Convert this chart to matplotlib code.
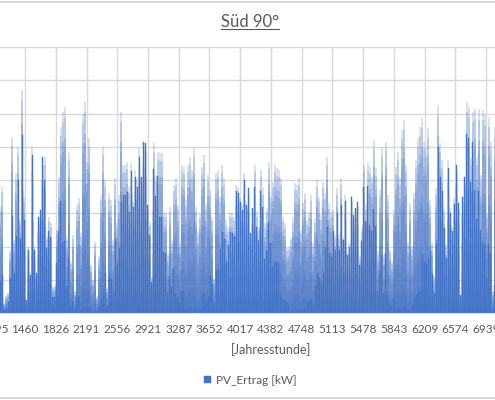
import numpy as np
import matplotlib
matplotlib.use("Agg")
import matplotlib.pyplot as plt
from matplotlib.lines import Line2D

# daily peak of PV_Ertrag (days 48 .. 294)
peaks_a = [3.2, 3.8, 0.3, 0.5, 0.6, 1.9, 5.3, 2.2, 4.2, 5.0, 2.8, 6.7, 3.5, 0.4, 2.0, 1.2,
           5.0, 2.0, 1.2, 2.9, 3.1, 4.7, 4.7, 2.3, 2.9, 2.7, 0.8, 0.8, 2.5, 4.1, 5.6]
peaks_b = [6.05, 6.2, 2.3, 4.8, 1.55, 2.35, 0.65, 3.25, 3.45, 2.4, 6.0, 6.35, 4.55, 5.25, 1.45,
           1.0, 2.15, 0.5, 1.7, 3.55, 5.0, 4.0, 0.75, 3.6, 3.4, 2.2, 4.05, 2.7, 3.55, 6.05, 4.45]
peaks_c = [4.45, 4.55, 3.8, 4.5, 3.35, 4.3, 4.0, 4.95, 4.1, 5.15, 5.1, 3.25, 2.75, 1.1, 5.1, 4.15,
           4.85, 4.8, 4.8, 3.05, 3.0, 1.8, 3.2, 2.2, 3.85, 4.05, 3.25, 2.1, 4.45, 4.4, 3.4]
peaks_d = [4.45, 4.7, 4.3, 4.95, 3.2, 2.45, 3.0, 4.4, 4.75, 3.25, 4.15, 3.7, 2.9, 1.05, 4.2, 4.3,
           3.5, 4.45, 4.05, 2.8, 2.55, 3.05, 3.0, 2.9, 3.85, 3.8, 3.5, 3.25, 4.2, 3.25, 3.75]
peaks_e = [2.4, 3.15, 4.45, 3.05, 2.6, 4.3, 3.75, 2.7, 3.15, 4.55, 3.5, 3.95, 4.45, 4.35, 4.3, 4.05,
           2.9, 2.7, 1.95, 2.0, 2.3, 2.85, 3.9, 3.85, 4.05, 2.5, 3.3, 3.6, 2.8, 3.05, 3.55]
peaks_f = [2.1, 2.85, 4.0, 3.5, 2.95, 3.95, 3.6, 4.7, 3.3, 3.05, 3.1, 2.35, 3.75, 2.35, 4.05, 2.3,
           3.55, 1.85, 2.1, 3.5, 2.95, 3.15, 3.35, 1.7, 2.55, 4.45, 3.25, 4.5, 4.4, 4.1, 5.2]
peaks_g = [4.35, 1.85, 3.7, 4.95, 1.75, 5.15, 3.55, 1.9, 1.55, 3.1, 4.4, 4.85, 4.05, 5.5, 5.8, 4.45,
           2.15, 3.3, 2.0, 3.6, 4.6, 5.25, 5.6, 5.85, 5.15, 4.95, 5.55, 3.4, 2.15, 1.1, 3.75]
peaks_h = [6.25, 5.1, 4.6, 3.2, 2.05, 4.6, 3.15, 2.6, 3.45, 4.45, 3.3, 0.55, 3.5, 4.1, 6.35, 6.2,
           4.65, 6.05, 6.15, 4.7, 6.1, 4.15, 6.1, 5.95, 3.0, 5.9, 5.15, 0.65, 5.6, 4.0]
first_day = 48

# relative shape of one day (hour 0..23)
day_profile = [0, 0, 0, 0, 0, 0, 0, 0.03, 0.15, 0.35, 0.6, 0.85,
               1.0, 0.95, 0.8, 0.55, 0.3, 0.12, 0.03, 0, 0, 0, 0, 0]

tick_labels = ["1095", "1460", "1826", "2191", "2556", "2921", "3287", "3652", "4017",
               "4382", "4748", "5113", "5478", "5843", "6209", "6574", "6939", "7304"]

peaks = peaks_a + peaks_b + peaks_c + peaks_d + peaks_e + peaks_f + peaks_g + peaks_h
ertrag = np.outer(peaks, day_profile).ravel()
hours = np.arange(len(ertrag)) + first_day * 24

blue = "#4472C4"
grey = "#595959"
grid = "#D9D9D9"

fig = plt.figure(figsize=(4.95, 4.0), dpi=100)
# axis spans hour 0..8760, wider than the (cropped) picture
ax = fig.add_axes([-97.8 / 495, 87 / 400, 737 / 495, 266 / 400])
ax.bar(hours, ertrag, width=1.0, color=blue, linewidth=0.3, edgecolor=blue, zorder=2)
ax.set_xlim(0, 8760)
ax.set_ylim(0, 8)
ax.set_yticks(range(9))
ax.set_xticks([int(t) for t in tick_labels])
ax.set_xticklabels(tick_labels, fontsize=8.5, color=grey, family="Lato")
ax.tick_params(axis="x", length=0, pad=8)
ax.tick_params(axis="y", length=0, labelleft=False)
ax.grid(True, color=grid, linewidth=1, zorder=0)
ax.set_axisbelow(True)
for s in ["top", "left", "right"]:
    ax.spines[s].set_visible(False)
ax.spines["bottom"].set_color(grid)
ax.set_xlabel("[Jahresstunde]", fontsize=9, color=grey, family="Lato", labelpad=6)

t = fig.text(250 / 495, 1 - 22 / 400, "Süd 90°", ha="center", va="center",
             fontsize=12, color=grey, family="Lato")
fig.canvas.draw()
bb = t.get_window_extent().transformed(fig.transFigure.inverted())
fig.add_artist(Line2D([bb.x0, bb.x1], [bb.y0 + 0.002, bb.y0 + 0.002], color=grey, linewidth=0.8))

ax.legend(["PV_Ertrag [kW]"], loc="center", bbox_to_anchor=(250 / 495, 1 - 380 / 400),
          bbox_transform=fig.transFigure, frameon=False, handlelength=0.6, handleheight=0.6,
          handletextpad=0.4, prop={"family": "Lato", "size": 8.5}, labelcolor=grey)

fig.add_artist(Line2D([0, 1], [1 - 1.5 / 400] * 2, color=grid, linewidth=1.5))
fig.add_artist(Line2D([0, 1], [1 - 398 / 400] * 2, color=grid, linewidth=1.5))

fig.savefig("out.png", dpi=100)
